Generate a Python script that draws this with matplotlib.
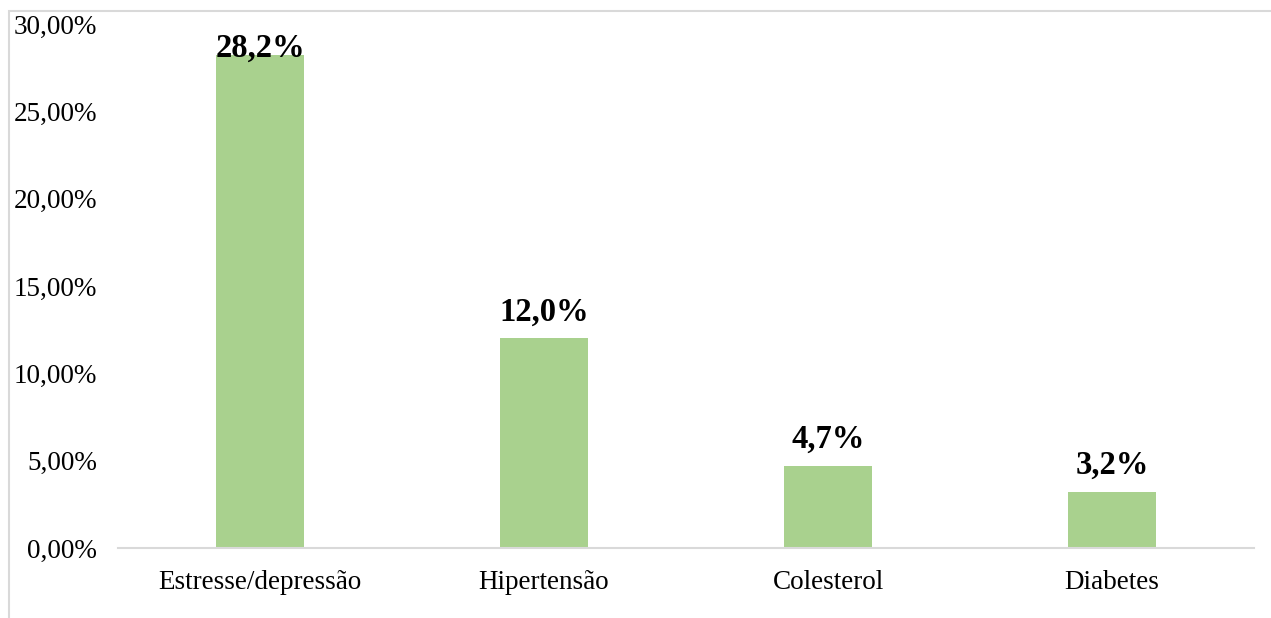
import matplotlib
matplotlib.use("Agg")
import matplotlib.pyplot as plt
from matplotlib.ticker import FuncFormatter
from matplotlib.patches import Rectangle

categories = ["Estresse/depressão", "Hipertensão", "Colesterol", "Diabetes"]
values = [28.2, 12.0, 4.7, 3.2]
labels = ["28,2%", "12,0%", "4,7%", "3,2%"]
yticks = [0, 5, 10, 15, 20, 25, 30]

plt.rcParams['font.family'] = ['Liberation Serif', 'DejaVu Serif']

W, H = 1271, 618
fig = plt.figure(figsize=(W / 100, H / 100), dpi=100)
ax = fig.add_axes([118 / W, 1 - 548 / H, (1254 - 118) / W, (548 - 24) / H])

# outer chart frame (only top and left visible)
fig.patches.append(Rectangle((9 / W, -0.1), 1.2, 1 - 11 / H + 0.1, transform=fig.transFigure,
                             fill=False, edgecolor="#d9d9d9", linewidth=1.5, zorder=0))

x = list(range(len(categories)))
ax.bar(x, values, width=0.313, color="#a9d18e", zorder=2)

ax.set_xlim(-0.5, len(categories) - 0.5)
ax.set_ylim(0, 30)
ax.set_yticks(yticks)
ax.yaxis.set_major_formatter(FuncFormatter(lambda v, p: f"{v:.2f}%".replace(".", ",")))
ax.set_xticks(x)
ax.set_xticklabels(categories)

for s in ["top", "right", "left"]:
    ax.spines[s].set_visible(False)
ax.spines["bottom"].set_color("#d9d9d9")
ax.spines["bottom"].set_linewidth(1.5)
ax.tick_params(axis="both", length=0, labelsize=19.5, colors="#000000")
ax.tick_params(axis="y", pad=15)
ax.tick_params(axis="x", pad=16)

for xi, v, lab in zip(x, values, labels):
    y = min(v + 1.03, 28.1)
    ax.text(xi, y, lab, ha="center", va="baseline", fontsize=23.5, fontweight="bold", color="#000000")

fig.savefig("out.png", dpi=100, facecolor="white")
